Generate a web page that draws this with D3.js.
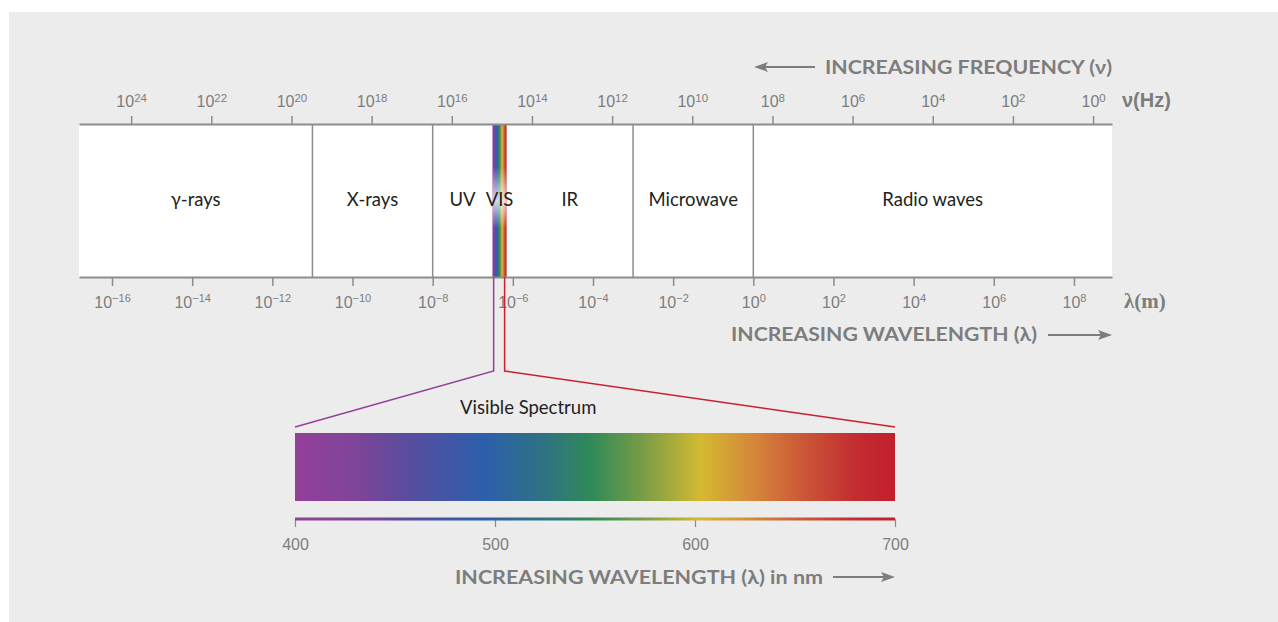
<!DOCTYPE html>
<html><head><meta charset="utf-8">
<script src="https://cdn.jsdelivr.net/npm/d3@7"></script>
<style>body{margin:0;background:#fff}svg{display:block}</style></head>
<body>
<svg id="c" width="1278" height="622"></svg>
<script>
// ---------- data ----------
const C = 3e8; // speed of light, m/s
const lambdaDomain = [1.5e-17, 8.9e8];                 // wavelength extent of the band (m)
const regionNames  = ["γ-rays","X-rays","UV","VIS","IR","Microwave","Radio waves"];
const regionBounds = [1.5e-17, 1e-11, 1e-8, 3.1e-7, 7e-7, 1e-3, 1, 8.9e8]; // m
const visibleBand  = [3.1e-7, 7e-7];                  // m
const wavelengthExponents = [-16,-14,-12,-10,-8,-6,-4,-2,0,2,4,6,8];
const frequencyExponents  = [24,22,20,18,16,14,12,10,8,6,4,2,0];
const visibleDomain = [400, 700];                      // nm
const visibleTicks  = [400, 500, 600, 700];
const spectrumNm     = [400, 430, 455, 495, 525, 548, 575, 603, 628, 655, 680, 700];
const spectrumColors = ["#93409a","#7f4499","#5b4c9e","#2c5fab","#2f7382","#2f8a58","#7b9e45","#d4b931","#d5893a","#cb5537","#c32d30","#c21f2e"];

// ---------- setup ----------
const W = 1278, H = 622;
const grey = "#7d7d7d", lineGrey = "#8c8c8c", dark = "#231f20";
const svg = d3.select("#c");
const defs = svg.append("defs");

const spec = defs.append("linearGradient").attr("id","spec").attr("x1",0).attr("x2",1).attr("y1",0).attr("y2",0);
spectrumNm.forEach((nm,i)=>spec.append("stop")
  .attr("offset",(nm-visibleDomain[0])/(visibleDomain[1]-visibleDomain[0]))
  .attr("stop-color",spectrumColors[i]));

const glow = defs.append("linearGradient").attr("id","glow").attr("x1",0).attr("x2",0).attr("y1",0).attr("y2",1);
[[0.28,0],[0.5,0.78],[0.68,0]].forEach(([o,a])=>glow.append("stop").attr("offset",o).attr("stop-color","#fff").attr("stop-opacity",a));

svg.append("rect").attr("x",9).attr("y",12).attr("width",W-9).attr("height",H-12).attr("fill","#ececec");

const box = {left:79, right:1112, top:124, bottom:277};
const x  = d3.scaleLog().domain(lambdaDomain).range([box.left, box.right]);
const fx = d3.scaleLog().domain(lambdaDomain.map(l=>C/l)).range([box.left, box.right]);

// main white band
svg.append("rect").attr("x",x(regionBounds[0])).attr("y",box.top)
  .attr("width",x(regionBounds[regionBounds.length-1])-x(regionBounds[0]))
  .attr("height",box.bottom-box.top).attr("fill","#fff");

// visible strip
svg.append("rect").attr("x",x(visibleBand[0])).attr("y",box.top)
  .attr("width",x(visibleBand[1])-x(visibleBand[0])).attr("height",box.bottom-box.top)
  .attr("fill","url(#spec)");
svg.append("rect").attr("x",x(visibleBand[0])).attr("y",box.top)
  .attr("width",x(visibleBand[1])-x(visibleBand[0])).attr("height",box.bottom-box.top)
  .attr("fill","url(#glow)");

// dividers (not the VIS edges)
const dividers = regionBounds.slice(1,-1).filter(b=>!visibleBand.includes(b));
svg.selectAll("line.div").data(dividers).join("line")
  .attr("x1",d=>x(d)).attr("x2",d=>x(d)).attr("y1",box.top).attr("y2",box.bottom)
  .attr("stroke",lineGrey).attr("stroke-width",1.5);

// region labels
svg.selectAll("text.reg").data(regionNames).join("text")
  .attr("x",(d,i)=>(x(regionBounds[i])+x(regionBounds[i+1]))/2)
  .attr("y",206).attr("text-anchor","middle")
  .attr("font-family","Lato, 'Open Sans', sans-serif").attr("font-size",18.5).attr("fill",dark)
  .text(d=>d);

function supLabel(sel, size, supSize, rise){
  sel.each(function(d){
    const e = Math.round(Math.log10(d));
    const t = d3.select(this);
    t.text(null);
    t.append("tspan").text("10");
    t.append("tspan").attr("dy",-rise).attr("font-size",supSize).text(e<0?"\u2212"+(-e):String(e));
  });
  sel.attr("font-size",size);
}

// top frequency axis
const topAxis = svg.append("g").attr("transform",`translate(0,${box.top})`)
  .call(d3.axisTop(fx).tickValues(frequencyExponents.map(e=>Math.pow(10,e))).tickSize(8).tickSizeOuter(0));
topAxis.select(".domain").attr("stroke",lineGrey).attr("stroke-width",2);
topAxis.selectAll(".tick line").attr("stroke",lineGrey).attr("stroke-width",1.5);
topAxis.selectAll(".tick text").attr("y",-17).attr("dy",0).attr("fill",grey)
  .attr("font-family","'Liberation Sans', Arial, sans-serif").call(supLabel,16,11.5,5);

// bottom wavelength axis
const botAxis = svg.append("g").attr("transform",`translate(0,${box.bottom})`)
  .call(d3.axisBottom(x).tickValues(wavelengthExponents.map(e=>Math.pow(10,e))).tickSize(9).tickSizeOuter(0));
botAxis.select(".domain").attr("stroke",lineGrey).attr("stroke-width",2);
botAxis.selectAll(".tick line").attr("stroke",lineGrey).attr("stroke-width",1.5);
botAxis.selectAll(".tick text").attr("y",31).attr("dy",0).attr("fill",grey)
  .attr("font-family","'Liberation Sans', Arial, sans-serif").call(supLabel,16,11,6);

// axis unit labels
svg.append("text").attr("x",1122).attr("y",107).attr("font-family","'Liberation Sans', Arial, sans-serif")
  .attr("font-weight","bold").attr("font-size",20).attr("fill",grey).text("ν(Hz)");
svg.append("text").attr("x",1124).attr("y",308).attr("font-family","'Liberation Serif', 'Times New Roman', serif")
  .attr("font-weight","bold").attr("font-size",21).attr("fill",grey).text("λ(m)");

// titles with arrows
function arrow(x1,x2,y){
  const dir = Math.sign(x2-x1);
  svg.append("line").attr("x1",x1).attr("x2",x2-dir*8).attr("y1",y).attr("y2",y).attr("stroke",grey).attr("stroke-width",2);
  svg.append("path").attr("d",`M${x2},${y} L${x2-dir*14},${y-5} L${x2-dir*11},${y} L${x2-dir*14},${y+5} Z`).attr("fill",grey);
}
function title(txt,x0,x1,y){
  svg.append("text").attr("x",x0).attr("y",y).attr("font-family","Lato, 'Open Sans', sans-serif")
    .attr("font-weight","bold").attr("font-size",18.5).attr("fill",grey)
    .attr("textLength",x1-x0).attr("lengthAdjust","spacingAndGlyphs").text(txt);
}
title("INCREASING FREQUENCY (ν)",825,1112,74);
arrow(815,754,67);
title("INCREASING WAVELENGTH (λ)",731,1037,341);
arrow(1048,1112,335);

// visible spectrum zoom
const vs = d3.scaleLinear().domain(visibleDomain).range([295,895]);
const vx0 = x(visibleBand[0])+1.2, vx1 = x(visibleBand[1])-2;
svg.append("path").attr("d",`M${vx0},${box.bottom} V371 L${vs(visibleDomain[0])},427`)
  .attr("fill","none").attr("stroke","#93409a").attr("stroke-width",1.5);
svg.append("path").attr("d",`M${vx1},${box.bottom} V371 L${vs(visibleDomain[1])},427`)
  .attr("fill","none").attr("stroke","#c8202e").attr("stroke-width",1.5);

svg.append("text").attr("x",460).attr("y",414).attr("font-family","Lato, 'Open Sans', sans-serif")
  .attr("font-size",18.5).attr("fill",dark).text("Visible Spectrum");

svg.append("rect").attr("x",vs(visibleDomain[0])).attr("y",433)
  .attr("width",vs(visibleDomain[1])-vs(visibleDomain[0])).attr("height",68).attr("fill","url(#spec)");

// nm axis
const nmAxis = svg.append("g").attr("transform","translate(0,519)")
  .call(d3.axisBottom(vs).tickValues(visibleTicks).tickSize(8).tickSizeOuter(0));
nmAxis.select(".domain").remove();
nmAxis.selectAll(".tick line").attr("stroke",lineGrey).attr("stroke-width",1.2);
nmAxis.selectAll(".tick text").attr("y",31).attr("dy",0).attr("fill",grey)
  .attr("font-family","'Liberation Sans', Arial, sans-serif").attr("font-size",16);
svg.append("rect").attr("x",vs(visibleDomain[0])).attr("y",517.5)
  .attr("width",vs(visibleDomain[1])-vs(visibleDomain[0])).attr("height",3).attr("fill","url(#spec)");

title("INCREASING WAVELENGTH (λ) in nm",455,823,584);
arrow(833,895,577);
</script>
</body></html>
